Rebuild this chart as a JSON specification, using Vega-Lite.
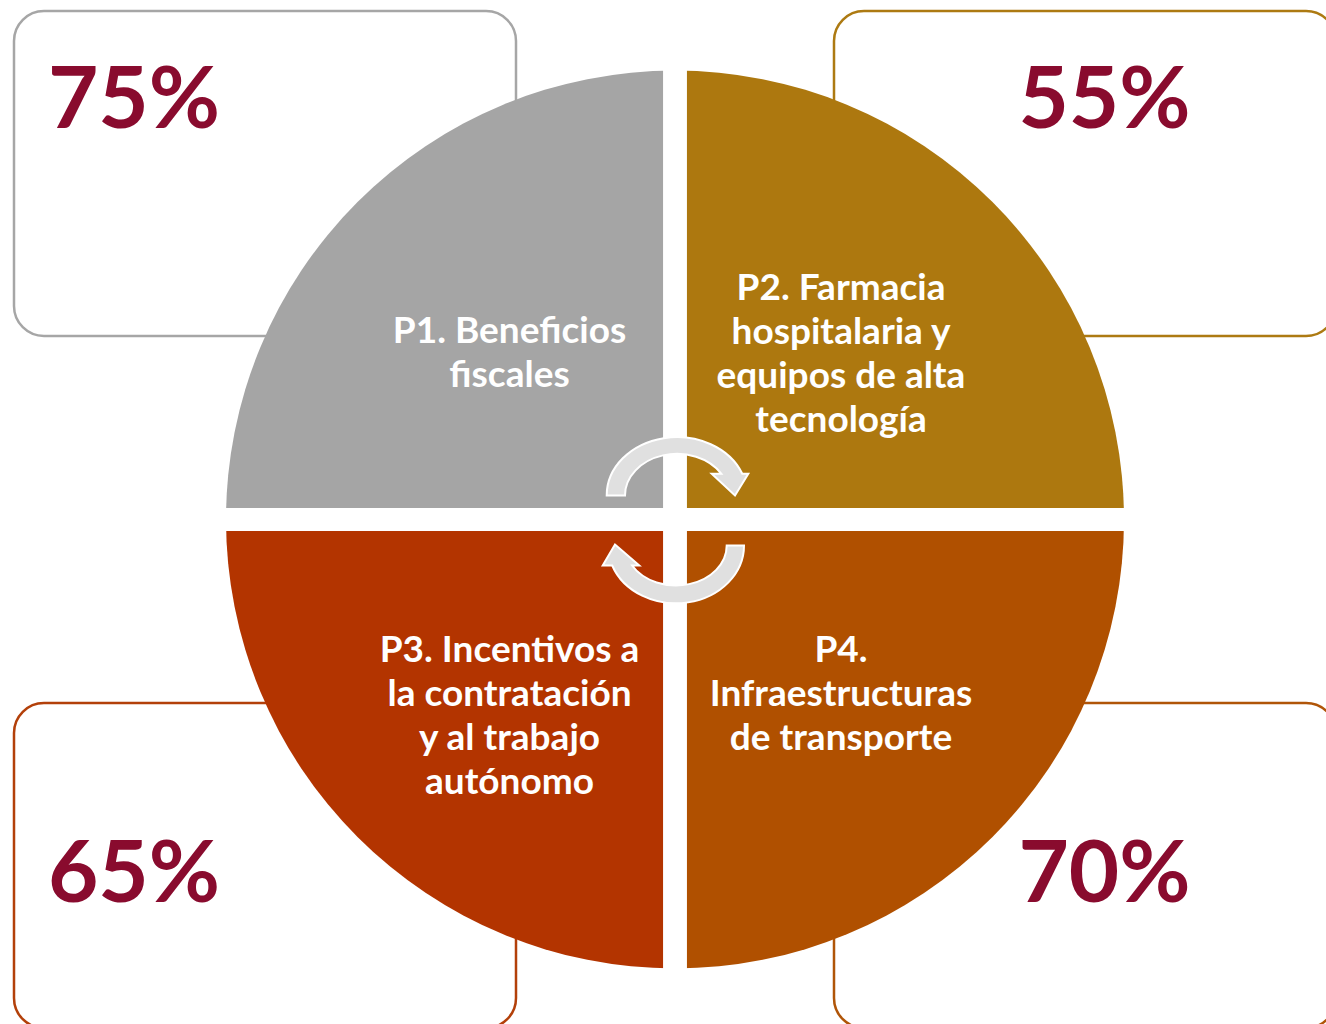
{
  "$schema": "https://vega.github.io/schema/vega-lite/v6.json",
  "width": 1326,
  "height": 1024,
  "autosize": {"type": "none"},
  "padding": 0,
  "background": "white",
  "config": {"view": {"stroke": null}},
  "data": {
    "values": [
      {"quad": "P1", "label": ["P1. Beneficios", "fiscales"], "pct": "75%", "hs": -1, "vs": 1, "clock": 4},
      {"quad": "P2", "label": ["P2. Farmacia", "hospitalaria y", "equipos de alta", "tecnología"], "pct": "55%", "hs": 1, "vs": 1, "clock": 1},
      {"quad": "P3", "label": ["P3. Incentivos a", "la contratación", "y al trabajo", "autónomo"], "pct": "65%", "hs": -1, "vs": -1, "clock": 3},
      {"quad": "P4", "label": ["P4.", "Infraestructuras", "de transporte"], "pct": "70%", "hs": 1, "vs": -1, "clock": 2}
    ]
  },
  "resolve": {"scale": {"x": "independent", "y": "independent", "color": "independent", "shape": "independent"}},
  "layer": [
    {
      "mark": {
        "type": "point",
        "shape": "M -0.8805 -0.6474 L 0.8805 -0.6474 A 0.1195 0.1195 0 0 1 1 -0.5279 L 1 0.5279 A 0.1195 0.1195 0 0 1 0.8805 0.6474 L -0.8805 0.6474 A 0.1195 0.1195 0 0 1 -1 0.5279 L -1 -0.5279 A 0.1195 0.1195 0 0 1 -0.8805 -0.6474 Z",
        "size": 252004,
        "filled": false,
        "strokeWidth": 2.5,
        "opacity": 1
      },
      "encoding": {
        "x": {"field": "hs", "type": "quantitative", "scale": {"domain": [-1, 1], "range": [265, 1085]}, "axis": null},
        "y": {"field": "vs", "type": "quantitative", "scale": {"domain": [-1, 1], "range": [865.5, 173.5]}, "axis": null},
        "color": {"field": "quad", "type": "nominal", "scale": {"domain": ["P1", "P2", "P3", "P4"], "range": ["#a6a6a6", "#ad7a12", "#b3400a", "#b05508"]}, "legend": null}
      }
    },
    {
      "mark": {"type": "arc", "radius": 449},
      "encoding": {
        "x": {"datum": 0, "type": "quantitative", "scale": {"domain": [-1, 1], "range": [265, 1085]}, "axis": null},
        "y": {"datum": 0, "type": "quantitative", "scale": {"domain": [-1, 1], "range": [865.5, 173.5]}, "axis": null},
        "theta": {"aggregate": "count", "type": "quantitative"},
        "order": {"field": "clock", "type": "quantitative"},
        "color": {"field": "quad", "type": "nominal", "scale": {"domain": ["P1", "P2", "P3", "P4"], "range": ["#a5a5a5", "#ad780f", "#b33400", "#b05000"]}, "legend": null}
      }
    },
    {
      "mark": {"type": "rule", "color": "white", "strokeWidth": 23},
      "encoding": {
        "x": {"datum": 0, "type": "quantitative", "scale": {"domain": [-1, 1], "range": [265, 1085]}, "axis": null}
      }
    },
    {
      "mark": {"type": "rule", "color": "white", "strokeWidth": 23},
      "encoding": {
        "y": {"datum": 0, "type": "quantitative", "scale": {"domain": [-1, 1], "range": [865.5, 173.5]}, "axis": null}
      }
    },
    {
      "transform": [{"filter": "datum.quad == 'P1'"}],
      "mark": {"type": "text", "font": "Lato", "fontWeight": "bold", "fontSize": 37, "lineHeight": 44, "color": "white", "align": "center", "baseline": "top"},
      "encoding": {
        "x": {"field": "hs", "type": "quantitative", "scale": {"domain": [-1, 1], "range": [509.5, 841]}, "axis": null},
        "y": {"field": "vs", "type": "quantitative", "scale": {"domain": [-1, 1], "range": [633, 314]}, "axis": null},
        "text": {"field": "label"}
      }
    },
    {
      "transform": [{"filter": "datum.quad == 'P2'"}],
      "mark": {"type": "text", "font": "Lato", "fontWeight": "bold", "fontSize": 37, "lineHeight": 44, "color": "white", "align": "center", "baseline": "top"},
      "encoding": {
        "x": {"field": "hs", "type": "quantitative", "scale": {"domain": [-1, 1], "range": [509.5, 841]}, "axis": null},
        "y": {"field": "vs", "type": "quantitative", "scale": {"domain": [-1, 1], "range": [633, 271]}, "axis": null},
        "text": {"field": "label"}
      }
    },
    {
      "transform": [{"filter": "datum.vs == -1"}],
      "mark": {"type": "text", "font": "Lato", "fontWeight": "bold", "fontSize": 37, "lineHeight": 44, "color": "white", "align": "center", "baseline": "top"},
      "encoding": {
        "x": {"field": "hs", "type": "quantitative", "scale": {"domain": [-1, 1], "range": [509.5, 841]}, "axis": null},
        "y": {"field": "vs", "type": "quantitative", "scale": {"domain": [-1, 1], "range": [633, 354]}, "axis": null},
        "text": {"field": "label"}
      }
    },
    {
      "mark": {"type": "text", "font": "Lato", "fontWeight": "bold", "fontSize": 87, "color": "#890b2e", "align": "center", "baseline": "alphabetic"},
      "encoding": {
        "x": {"field": "hs", "type": "quantitative", "scale": {"domain": [-1, 1], "range": [134, 1104.5]}, "axis": null},
        "y": {"field": "vs", "type": "quantitative", "scale": {"domain": [-1, 1], "range": [902, 128]}, "axis": null},
        "text": {"field": "pct"}
      }
    },
    {
      "data": {"values": [{"arrow": "top"}, {"arrow": "bottom"}]},
      "mark": {"type": "point", "filled": true, "size": 90000, "fill": "#e0e0e0", "stroke": "white", "strokeWidth": 2, "opacity": 1},
      "encoding": {
        "x": {"datum": 0, "type": "quantitative", "scale": {"domain": [-1, 1], "range": [265, 1085]}, "axis": null},
        "y": {"datum": 0, "type": "quantitative", "scale": {"domain": [-1, 1], "range": [865.5, 173.5]}, "axis": null},
        "shape": {
          "field": "arrow",
          "type": "nominal",
          "scale": {
            "domain": ["top", "bottom"],
            "range": [
              "M -0.4553 -0.16 A 0.4687 0.3887 0 0 1 0.4487 -0.3047 L 0.4887 -0.3047 L 0.4 -0.16 L 0.2447 -0.3047 L 0.3093 -0.3047 A 0.3467 0.278 0 0 0 -0.3333 -0.16 Z",
              "M 0.46 0.1733 A 0.4533 0.3847 0 0 1 -0.4187 0.3067 L -0.482 0.3067 L -0.4 0.1667 L -0.238 0.3067 L -0.286 0.3067 A 0.338 0.2667 0 0 0 0.3447 0.1733 Z"
            ]
          },
          "legend": null
        }
      }
    }
  ]
}
